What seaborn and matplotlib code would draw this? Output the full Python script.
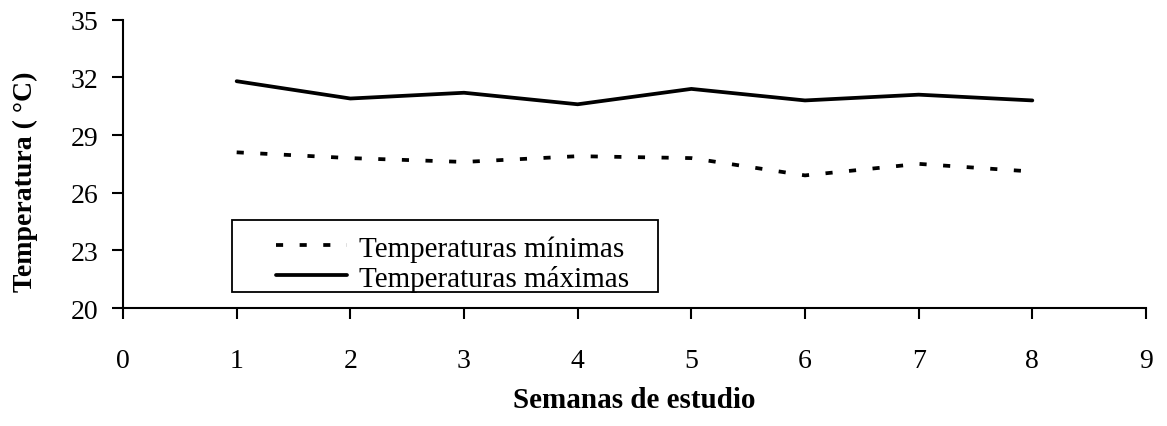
import matplotlib
matplotlib.use("Agg")
import matplotlib.pyplot as plt
from matplotlib.patches import Rectangle
import seaborn as sns
import pandas as pd

semanas = [1, 2, 3, 4, 5, 6, 7, 8]
temp_min = [28.1, 27.8, 27.6, 27.9, 27.8, 26.9, 27.5, 27.1]
temp_max = [31.8, 30.9, 31.2, 30.6, 31.4, 30.8, 31.1, 30.8]
x_ticks = [0, 1, 2, 3, 4, 5, 6, 7, 8, 9]
y_ticks = [20, 23, 26, 29, 32, 35]
lbl_min = "Temperaturas mínimas"
lbl_max = "Temperaturas máximas"

sns.set_theme(style="ticks")
plt.rcParams['font.family'] = ['Liberation Serif', 'DejaVu Serif']
plt.rcParams['text.color'] = 'black'
plt.rcParams['axes.labelcolor'] = 'black'
plt.rcParams['xtick.color'] = 'black'
plt.rcParams['ytick.color'] = 'black'

fig = plt.figure(figsize=(11.67, 4.27), dpi=100)
ax = fig.add_axes([0.1054, 0.2763, 0.8766, 0.6752])

df_min = pd.DataFrame({"Semana": semanas, "Temp": temp_min})
df_max = pd.DataFrame({"Semana": semanas, "Temp": temp_max})

sns.lineplot(data=df_min, x="Semana", y="Temp", ax=ax, color="black",
             linewidth=2.7, label=lbl_min)
sns.lineplot(data=df_max, x="Semana", y="Temp", ax=ax, color="black",
             linewidth=2.7, label=lbl_max)
ax.lines[0].set_dashes([1.9, 4.4])
ax.lines[0].set_dash_capstyle('butt')

ax.set_xlim(0, 9)
ax.set_ylim(20, 35)
ax.set_xticks(x_ticks)
ax.set_yticks(y_ticks)
ax.tick_params(axis='both', labelsize=20, direction='out', length=8,
               width=1.5, color='black', labelcolor='black')
ax.tick_params(axis='x', pad=21)
ax.tick_params(axis='y', pad=10)
for s in ['top', 'right']:
    ax.spines[s].set_visible(False)
for s in ['left', 'bottom']:
    ax.spines[s].set_linewidth(1.5)
    ax.spines[s].set_color('black')

ax.set_xlabel("Semanas de estudio", fontsize=21, fontweight='bold', labelpad=9,
              color='black')
ax.set_ylabel("Temperatura ( °C)", fontsize=20, fontweight='bold', color='black')
ax.yaxis.set_label_coords(-0.083, 0.442)

# legend box
ax.add_patch(Rectangle((0.1066, 0.0555), 0.4164, 0.2497, transform=ax.transAxes,
                       facecolor='white', edgecolor='black', linewidth=1.3, zorder=4))
leg = ax.legend(loc='center left', bbox_to_anchor=(0.1496, 0.155), frameon=False,
                fontsize=21, handlelength=2.45, handletextpad=0.4,
                borderpad=0, labelspacing=0.1, borderaxespad=0, labelcolor='black')
leg.set_zorder(5)

fig.savefig("out.png", dpi=100)
